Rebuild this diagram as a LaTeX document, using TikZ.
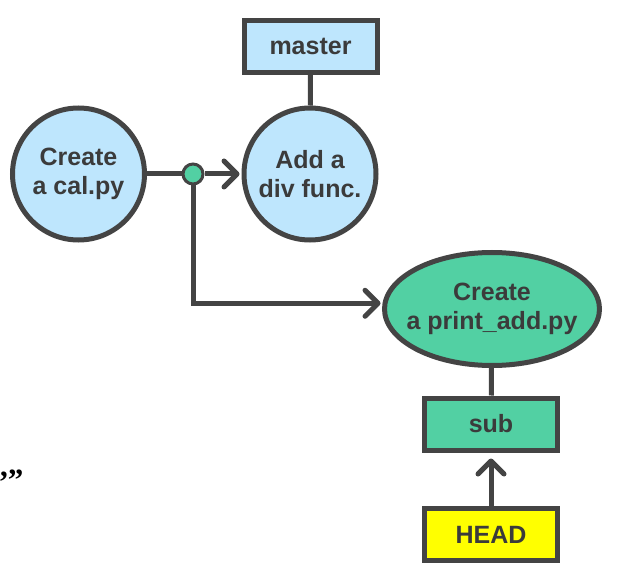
\documentclass[tikz,border=0pt]{standalone}
\usepackage{fontspec}
\setmainfont{Liberation Sans}
\newfontfamily\serifq{Liberation Serif}
\usetikzlibrary{shapes.geometric,arrows.meta}
\definecolor{edgegray}{HTML}{444444}
\definecolor{textgray}{HTML}{3B3B3B}
\definecolor{lightblue}{HTML}{BEE6FD}
\definecolor{mint}{HTML}{52D0A3}
\definecolor{headyellow}{HTML}{FFFF00}
\tikzset{
  lbl/.style={font=\fontsize{25}{29}\selectfont\bfseries, text=textgray, align=center},
  commit/.style={lbl, circle, draw=edgegray, line width=5pt, minimum size=132pt, inner sep=0pt},
  branchbox/.style={lbl, rectangle, draw=edgegray, line width=5pt, minimum width=133pt, minimum height=52pt, inner sep=0pt},
  conn/.style={draw=edgegray, line width=5pt},
  arr/.style={conn, -{Straight Barb[length=13pt, width=26pt, line cap=round, line join=round]}},
}
\begin{document}
\begin{tikzpicture}[x=1pt, y=-1pt]
  \useasboundingbox (0,0) rectangle (624,572);
  \node[commit, fill=lightblue] (c1) at (78.5,174) {Create\\a cal.py};
  \node[commit, fill=lightblue] (c2) at (310,174) {Add a\\div func.};
  \node[branchbox, fill=lightblue] (master) at (310.5,46.5) {master};
  \node[circle, draw=edgegray, line width=3pt, fill=mint, minimum size=20pt, inner sep=0pt] (dot) at (193,174) {};
  \node[lbl, ellipse, draw=edgegray, line width=5pt, fill=mint, minimum width=215pt, minimum height=113pt, inner xsep=-12pt, inner ysep=0pt] (c3) at (492,309) {Create\\a print\_add.py};
  \node[branchbox, fill=mint] (sub) at (491,424) {sub};
  \node[branchbox, fill=headyellow] (head) at (491,534.5) {HEAD};
  \node[anchor=base west, inner sep=0pt, font=\serifq\fontsize{31}{36}\selectfont\bfseries] (quote) at (0,490) {\raisebox{0.45em}{,}”};
  \draw[conn] (master) -- (c2);
  \draw[conn] (c1) -- (dot);
  \draw[arr, shorten >=2pt] (dot) -- (c2);
  \draw[arr, shorten >=2pt] (dot) |- (c3.177);
  \draw[conn] (c3) -- (sub);
  \draw[arr, shorten >=6pt] (head) -- (sub);
\end{tikzpicture}
\end{document}
